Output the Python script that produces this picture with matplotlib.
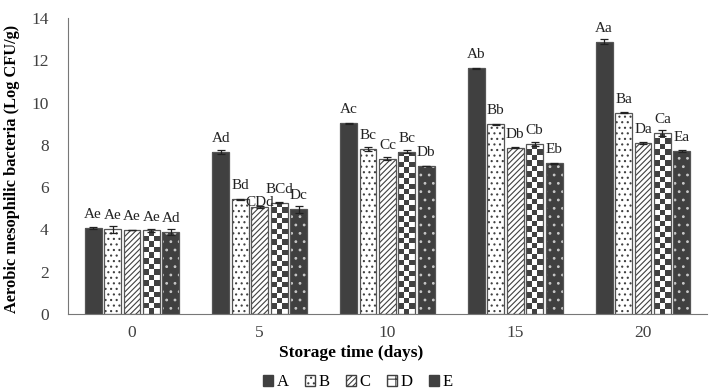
import numpy as np
import matplotlib
matplotlib.use("Agg")
import matplotlib.pyplot as plt
from matplotlib.patches import Patch

plt.rcParams['font.family'] = ['Liberation Serif', 'DejaVu Serif']
plt.rcParams['hatch.linewidth'] = 0.8

days = ['0', '5', '10', '15', '20']
groups = ['A', 'B', 'C', 'D', 'E']

vals_A = [4.08, 7.65, 9.02, 11.62, 12.87]
vals_B = [4.00, 5.42, 7.79, 8.97, 9.52]
vals_C = [3.97, 5.08, 7.35, 7.87, 8.10]
vals_D = [3.95, 5.27, 7.68, 8.04, 8.55]
vals_E = [3.88, 4.95, 7.00, 7.13, 7.71]

err_A = [0.05, 0.10, 0.02, 0.03, 0.12]
err_B = [0.15, 0.04, 0.10, 0.03, 0.03]
err_C = [0.02, 0.05, 0.08, 0.03, 0.05]
err_D = [0.06, 0.04, 0.07, 0.08, 0.15]
err_E = [0.12, 0.15, 0.02, 0.03, 0.03]

lab_A = ['Ae', 'Ad', 'Ac', 'Ab', 'Aa']
lab_B = ['Ae', 'Bd', 'Bc', 'Bb', 'Ba']
lab_C = ['Ae', 'CDd', 'Cc', 'Db', 'Da']
lab_D = ['Ae', 'BCd', 'Bc', 'Cb', 'Ca']
lab_E = ['Ad', 'Dc', 'Db', 'Eb', 'Ea']

values = [vals_A, vals_B, vals_C, vals_D, vals_E]
errors = [err_A, err_B, err_C, err_D, err_E]
labels = [lab_A, lab_B, lab_C, lab_D, lab_E]

dark = '#404040'
# face, hatch, hatch colour
styles = [
    (dark, None, dark),
    ('white', '...', dark),
    ('white', '//////', dark),
    ('white', None, dark),      # checkerboard drawn separately
    (dark, '..', '#c8c8c8'),
]

fig = plt.figure(figsize=(7.09, 3.92), dpi=100)
ax = fig.add_axes([0.096, 0.199, 0.901, 0.755])
ax.set_xlim(-0.5, 4.5)
ax.set_ylim(0, 14)

x = np.arange(len(days))
pitch = 0.152
width = 0.132

# size of one checker cell in data units (about 5.5 px)
p0 = ax.transData.inverted().transform((0, 0))
p1 = ax.transData.inverted().transform((5.6, 5.4))
cell_w = p1[0] - p0[0]
cell_h = p1[1] - p0[1]

for i, g in enumerate(groups):
    face, hatch, hcol = styles[i]
    pos = x + (i - 2) * pitch
    fill = ax.bar(pos, values[i], width, color=face, hatch=hatch, edgecolor=hcol, linewidth=0)
    if g == 'D':
        for rect in fill:
            bx, bw, bh = rect.get_x(), rect.get_width(), rect.get_height()
            nc = max(1, int(round(bw / cell_w)))
            nr = max(1, int(round(bh / cell_h)))
            board = (np.add.outer(np.arange(nr), np.arange(nc)) % 2).astype(float)
            im = ax.imshow(board, cmap='gray_r', vmin=0, vmax=1.35,
                           extent=[bx, bx + bw, 0, bh], origin='lower',
                           interpolation='nearest', aspect='auto', zorder=1.5)
            im.set_clip_path(rect)
    ax.bar(pos, values[i], width, fill=False, edgecolor='#555555', linewidth=0.9, zorder=2)
    ax.errorbar(pos, values[i], yerr=errors[i], fmt='none', ecolor='#222222',
                elinewidth=0.9, capsize=3, capthick=0.9, zorder=3)
    for p, v, t in zip(pos, values[i], labels[i]):
        off = 0.05 if t == 'CDd' else 0.47
        ax.text(p, v + off, t, ha='center', va='baseline', fontsize=11, color='#222222')

ax.set_xlim(-0.5, 4.5)
ax.set_ylim(0, 14)
ax.set_yticks(range(0, 15, 2))
ax.set_xticks(x)
ax.set_xticklabels(days)
ax.tick_params(axis='both', length=0, labelsize=12.5, colors='#404040')
ax.tick_params(axis='y', pad=14)
ax.tick_params(axis='x', pad=8)
for s in ['top', 'right']:
    ax.spines[s].set_visible(False)
ax.spines['left'].set_color('#777777')
ax.spines['bottom'].set_color('#777777')

ax.set_xlabel('Storage time (days)', fontsize=12.5, fontweight='bold')
ax.xaxis.set_label_coords(0.443, -0.105)
ax.set_ylabel('Aerobic mesophilic bacteria (Log CFU/g)', fontsize=11.8, fontweight='bold')
ax.yaxis.set_label_coords(-0.075, 0.49)

handles = []
for i, g in enumerate(groups):
    face, hatch, hcol = styles[i]
    h = '++' if g == 'D' else hatch
    handles.append(Patch(facecolor=face, hatch=h, edgecolor=dark, label=g))
fig.legend(handles=handles, loc='center', bbox_to_anchor=(0.505, 0.025), ncol=5,
           frameon=False, fontsize=12, handlelength=0.6, handleheight=0.6,
           handletextpad=0.2, columnspacing=1.0)

fig.savefig('out.png', dpi=100)
